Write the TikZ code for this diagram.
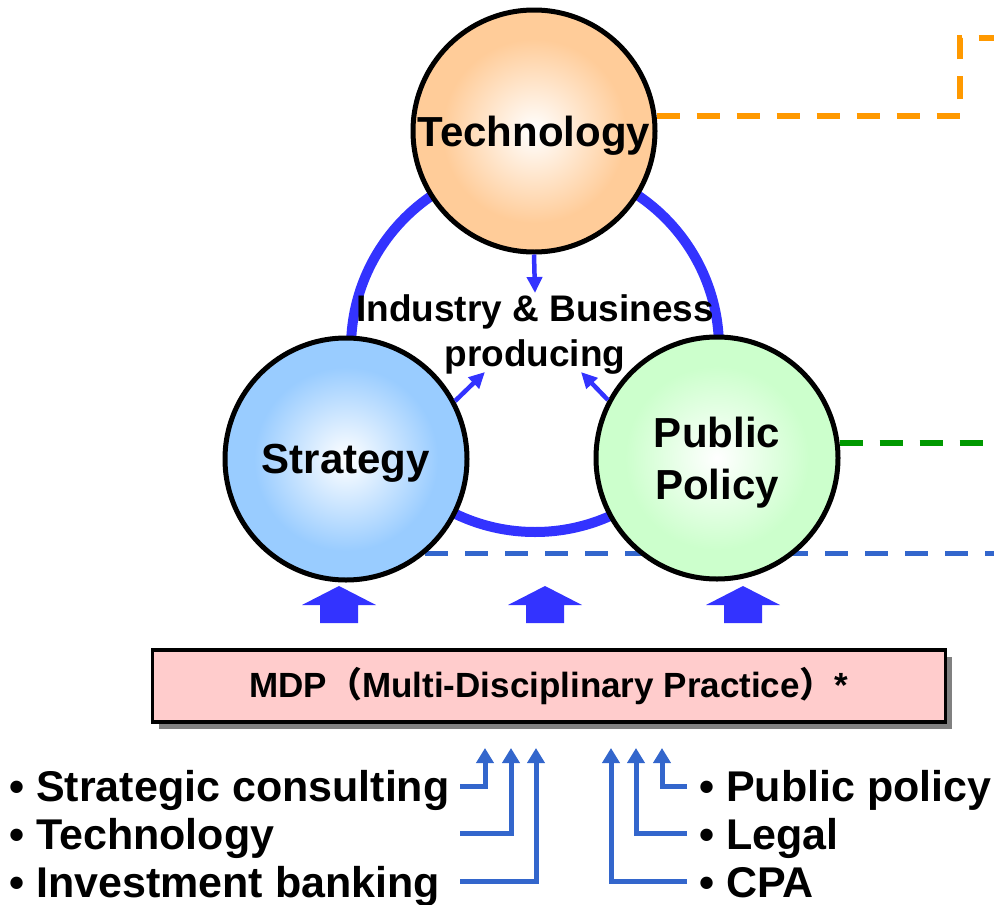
\documentclass[tikz,border=0pt]{standalone}
\usepackage{fontspec}
\setmainfont{Liberation Sans}
\newfontfamily\cjk{Noto Sans CJK JP}
\usetikzlibrary{arrows.meta,shadows,backgrounds}
\definecolor{ringblue}{HTML}{3333FF}
\definecolor{feedblue}{HTML}{3366CC}
\definecolor{techfill}{HTML}{FFCC99}
\definecolor{stratfill}{HTML}{99CCFF}
\definecolor{polfill}{HTML}{CCFFCC}
\definecolor{mdpfill}{HTML}{FFCCCC}
\definecolor{leadorange}{HTML}{FF9900}
\definecolor{leadgreen}{HTML}{009900}
\pgfdeclareradialshading{techball}{\pgfpoint{0bp}{0bp}}{color(0bp)=(white); color(19bp)=(techfill); color(50bp)=(techfill)}
\pgfdeclareradialshading{stratball}{\pgfpoint{0bp}{0bp}}{color(0bp)=(white); color(19bp)=(stratfill); color(50bp)=(stratfill)}
\pgfdeclareradialshading{polball}{\pgfpoint{0bp}{0bp}}{color(0bp)=(white); color(19bp)=(polfill); color(50bp)=(polfill)}
\newcommand{\fw}[1]{{\cjk #1}}
\newcommand{\bigbold}{\bfseries\fontsize{42}{52}\selectfont}

\begin{document}
\begin{tikzpicture}[x=1pt,y=-1pt,
  ball/.style={circle,draw,line width=5pt,minimum size=242pt,inner sep=0pt,align=center,
    text depth=0pt,font=\bigbold},
  item/.style={anchor=base west,inner sep=0pt,font=\bfseries\fontsize{43}{50}\selectfont},
  link/.style={draw=ringblue,line width=4.5pt,-{Triangle[width=15pt,length=16pt]}},
  feed/.style={draw=feedblue,line width=5pt,-{Triangle[width=17pt,length=15pt]}},
  lead/.style={line width=5.5pt,dash pattern=on 23pt off 17pt}]

\useasboundingbox (0,0) rectangle (994,905);

\coordinate (edge) at (994,0);

% the three fields
\node[ball,shading=techball] (tech) at (534,131) {Technology};
\node[ball,shading=stratball] (strat) at (346,459) {Strategy};
\node[ball,shading=polball] (pol) at (717,458) {Public\\Policy};

\node[font=\bfseries\fontsize{37}{45}\selectfont,align=center,inner sep=2pt] (prod) at (535,335)
  {Industry \& Business\\producing};

% ring and bottom lead sit behind the circles
\begin{scope}[on background layer]
\draw[ringblue,line width=10pt] (535,348) circle[radius=184pt];
\draw[lead,feedblue] (strat.-50) -- (strat.-50 -| edge);
\end{scope}

\draw[lead,leadgreen] (pol.7) -- (pol.7 -| edge);
\coordinate (ocorner) at (960,38);
\draw[lead,leadorange] (tech.7) -| (ocorner) -- (ocorner -| edge);

\draw[link] (tech.south) -- (prod.north);
\coordinate (ibl) at (485,372);
\coordinate (ibr) at (581,372);
\draw[link] (strat.28) -- (ibl);
\draw[link] (pol.152) -- (ibr);

% block arrows up from the MDP
\foreach \x in {339,545,743}
  \fill[ringblue] (\x-19,623) -- (\x-19,605) -- (\x-37,605) -- (\x,586)
    -- (\x+37,605) -- (\x+19,605) -- (\x+19,623) -- cycle;

\node[draw,line width=3.5pt,fill=mdpfill,minimum width=793pt,minimum height=72pt,
  font=\bfseries\fontsize{35}{40}\selectfont,
  drop shadow={shadow xshift=6pt,shadow yshift=-7pt,fill=gray,opacity=1}] (mdp) at (549,686)
  {MDP\fw{（}Multi-Disciplinary Practice\fw{）}*};

% disciplines feeding in
\node[item] (sc) at (9,801) {\textbullet\ Strategic consulting};
\node[item] (tc) at (9,849) {\textbullet\ Technology};
\node[item] (inv) at (9,897) {\textbullet\ Investment banking};
\node[item] (pub) at (699,801) {\textbullet\ Public policy};
\node[item] (leg) at (699,849) {\textbullet\ Legal};
\node[item] (cpa) at (699,897) {\textbullet\ CPA};

\coordinate (s1) at (460,786);
\coordinate (s2) at (460,833);
\coordinate (s3) at (460,881);
\coordinate (s4) at (687,786);
\coordinate (s5) at (687,833);
\coordinate (s6) at (687,881);
\coordinate (t1) at (485,748);
\coordinate (t2) at (511,748);
\coordinate (t3) at (536,748);
\coordinate (t4) at (662,748);
\coordinate (t5) at (636,748);
\coordinate (t6) at (611,748);
\draw[feed] (s1) -| (t1);
\draw[feed] (s2) -| (t2);
\draw[feed] (s3) -| (t3);
\draw[feed] (s4) -| (t4);
\draw[feed] (s5) -| (t5);
\draw[feed] (s6) -| (t6);

\end{tikzpicture}
\end{document}
